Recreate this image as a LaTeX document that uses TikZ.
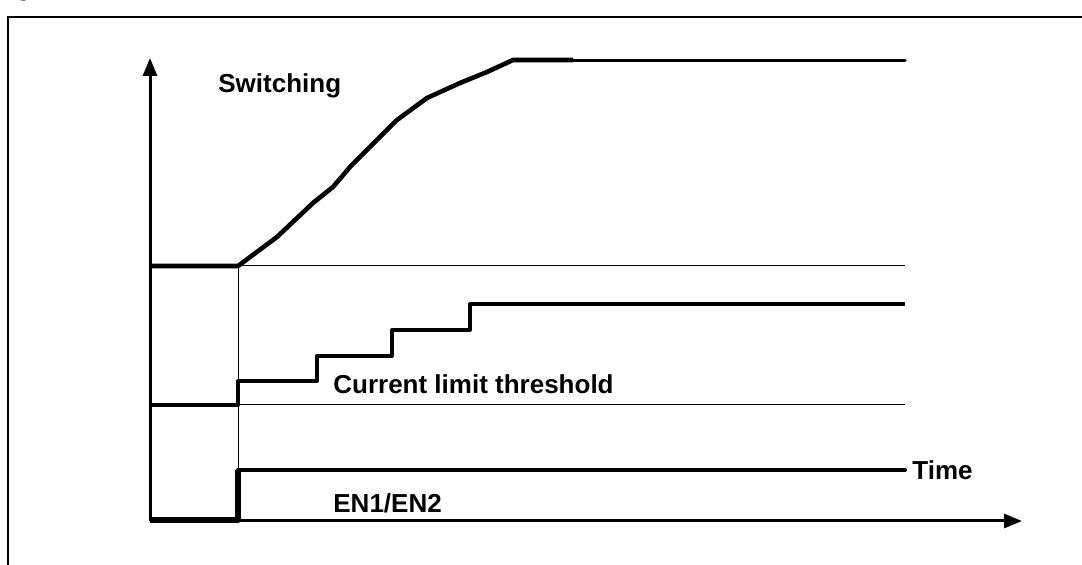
\documentclass[tikz,border=0pt]{standalone}
\usepackage{fontspec}
\setmainfont{Liberation Sans}
\usetikzlibrary{arrows.meta,positioning}

\begin{document}
\begin{tikzpicture}[x=0.5pt,y=-0.5pt,
    lbl/.style={font=\fontsize{13}{15}\selectfont\bfseries, inner sep=0pt},
    axis/.style={line width=1.5pt, -{Triangle[length=9pt,width=7pt]}},
    guide/.style={line width=0.5pt},
    wave/.style={line width=2pt, line join=round},
    enwave/.style={line width=3pt, line join=round}
  ]
    \useasboundingbox (0,0) rectangle (1082,565);
    \clip (0,0) rectangle (1082,565);

    % frame and title (cut at the top)
    \draw[line width=1pt] (8,600) -- (8,17) -- (1100,17);
    \node[lbl, anchor=base west] (title) at (-8,-4) {Figure 37.};
    \node[lbl, anchor=base west] (subtitle) at (118,-4) {Soft-start waveforms};

    % axes
    \coordinate (origin) at (150,521);
    \coordinate (ytop) at (150,58);
    \coordinate (xend) at (1022,521);
    \draw[axis] (origin) -- (ytop);
    \draw[axis] (origin) -- (xend);

    % start instant and reference levels
    \coordinate (t0) at (238,266);
    \draw[guide] (t0) -- (238,521);
    \draw[guide] (t0) -- (905,266);
    \draw[guide] (238,405) -- (905,405);

    % switching
    \draw[wave, line width=2.3pt] (150,266) -- (t0) -- (277,237) -- (313,203) -- (333,187) -- (350,167)
      -- (397,120) -- (427,98) -- (460,83) -- (487,72) -- (513,60) -- (573,60);
    \draw[line width=1.5pt, line cap=round] (573,60.5) -- (905,60.5);
    \node[lbl, anchor=base west] (switching) at (218,93) {Switching};

    % current limit threshold
    \draw[wave] (150,405) -- (238,405) -- (238,381) -- (317,381) -- (317,356)
      -- (392,356) -- (392,330) -- (470,330) -- (470,304) -- (905,304);
    \node[lbl, anchor=base west] (ilim) at (333,394) {Current limit threshold};

    % enable
    \draw[enwave] (150,520) -- (238,520) -- (238,470);
    \draw[wave, line cap=round] (238,470) -- (905,470);
    \node[lbl, anchor=base west] (time) at (912,480) {Time};
    \node[lbl, anchor=base west] (en) at (333,513) {EN1/EN2};
\end{tikzpicture}
\end{document}
